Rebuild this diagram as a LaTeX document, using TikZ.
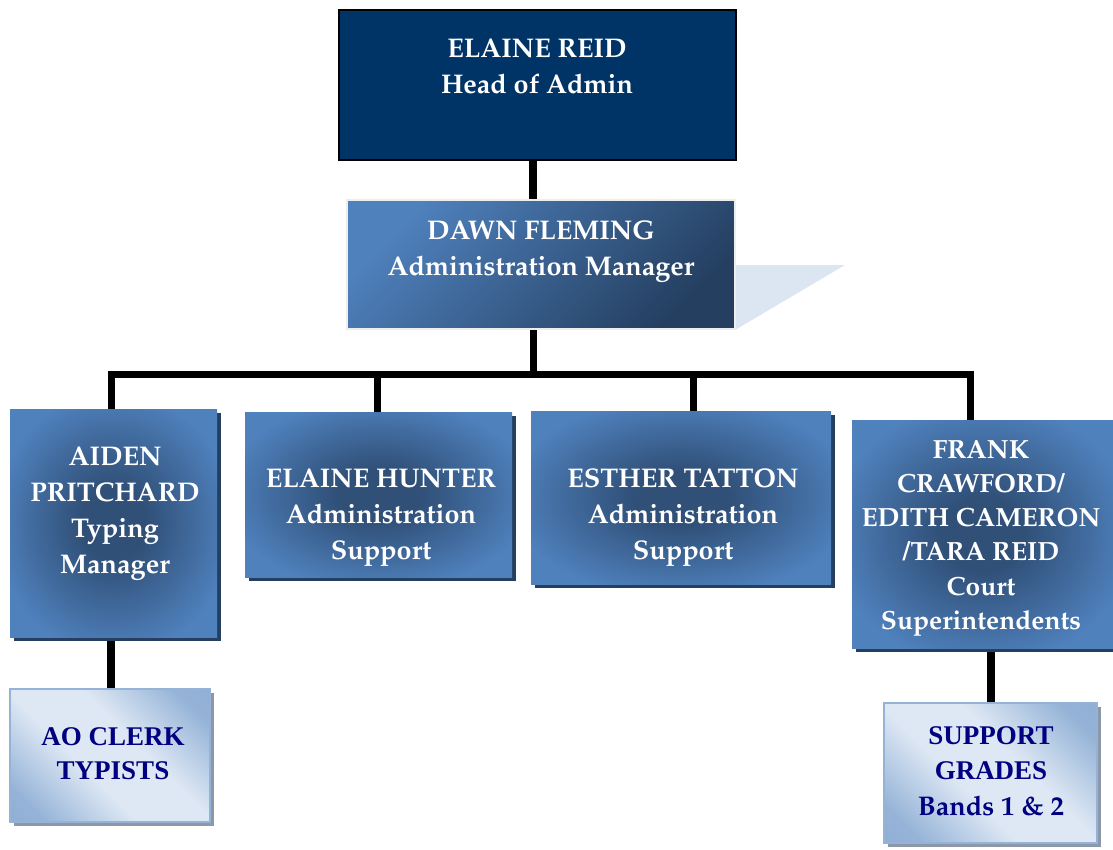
\documentclass[tikz,border=0pt]{standalone}
\usepackage[T1]{fontenc}
\usepackage{fontspec}
\setmainfont{Liberation Serif}
\newfontfamily\timesf{Liberation Serif}
\newcommand\palb{\fontencoding{T1}\fontfamily{ppl}\fontseries{b}\fontshape{n}\selectfont}
\usetikzlibrary{shadows}
\definecolor{navybox}{RGB}{0,51,102}
\definecolor{bluebox}{RGB}{79,129,189}
\definecolor{bluedark}{RGB}{48,80,120}
\definecolor{shadowblue}{RGB}{36,63,96}
\definecolor{lightbox}{RGB}{222,232,244}
\definecolor{lightmid}{RGB}{149,179,215}
\definecolor{lightdeep}{RGB}{135,166,208}
\definecolor{greyshadow}{RGB}{140,152,168}
\definecolor{navytext}{RGB}{0,0,128}
\definecolor{tricol}{RGB}{220,230,242}
\definecolor{paleedge}{RGB}{238,238,238}
\pgfdeclareradialshading{boxglow}{\pgfpoint{0bp}{0bp}}{color(0bp)=(bluedark); color(8bp)=(bluedark); color(29bp)=(bluebox); color(50bp)=(bluebox)}
\pgfdeclareverticalshading{lightband}{100bp}{color(0bp)=(lightdeep); color(22bp)=(lightmid); color(42bp)=(lightbox); color(58bp)=(lightbox); color(78bp)=(lightmid); color(100bp)=(lightdeep)}
\tikzset{
  conn/.style={line width=7pt, draw=black, line join=miter},
  midbox/.style={rectangle, inner sep=0pt, shading=boxglow,
    drop shadow={shadow xshift=4pt, shadow yshift=-4pt, fill=shadowblue, opacity=1}},
  lightbx/.style={rectangle, inner sep=0pt, shading=lightband, shading angle=-45,
    draw=lightmid, line width=2pt,
    drop shadow={shadow xshift=4pt, shadow yshift=-4pt, fill=greyshadow, opacity=1}},
  wtxt/.style={text=white, align=center, inner sep=0pt, font=\palb\fontsize{27}{36}\selectfont},
  ntxt/.style={text=navytext, align=center, inner sep=0pt, font=\timesf\bfseries\fontsize{27}{34}\selectfont},
}
\begin{document}
\begin{tikzpicture}[x=1pt, y=-1pt]
\useasboundingbox (0,0) rectangle (1113,849);
% boxes
\node[rectangle, inner sep=0pt, fill=navybox, draw=black, line width=2pt,
  minimum width=397pt, minimum height=150pt] (top) at (537.5,85) {};
\fill[tricol] (735,265) -- (845,265) -- (735,330) -- cycle;
\node[rectangle, inner sep=0pt, shading=axis, top color=bluebox, bottom color=shadowblue, shading angle=45,
  draw=paleedge, line width=2pt, minimum width=388pt, minimum height=129pt] (dawn) at (541,264.5) {};
\node[midbox, minimum width=207pt, minimum height=228pt] (aiden) at (113.5,523) {};
\node[midbox, minimum width=267pt, minimum height=165pt] (hunter) at (378.5,494.5) {};
\node[midbox, minimum width=300pt, minimum height=173pt] (esther) at (681,497.5) {};
\node[midbox, minimum width=261pt, minimum height=228pt] (frank) at (982.5,534) {};
\node[lightbx, minimum width=200pt, minimum height=133pt] (ao) at (110,755.5) {};
\node[lightbx, minimum width=213pt, minimum height=140pt] (support) at (990.5,773) {};
% connector coordinates
\coordinate (c1) at (533,374.5);
\coordinate (dA) at (111,374.5);
\coordinate (dH) at (377,374.5);
\coordinate (dE) at (693,374.5);
\coordinate (dF) at (970,374.5);
\coordinate (dS) at (991,700);
% connectors
\draw[conn, line width=8pt] (c1 |- top.south) -- (c1 |- dawn.north);
\draw[conn] (c1 |- dawn.south) -- (c1);
\draw[conn] (dA |- aiden.north) -- (dA) -- (dF) -- (dF |- frank.north);
\draw[conn] (dH) -- (dH |- hunter.north);
\draw[conn] (dE) -- (dE |- esther.north);
\draw[conn, line width=8pt] (dA |- aiden.south) ++(0,4) -- (dA |- ao.north);
\draw[conn, line width=8pt] (dS |- frank.south) ++(0,4) -- (dS |- support.north);
% texts
\node[wtxt] (ttop) at (537,66) {ELAINE REID\\Head of Admin};
\node[wtxt] (tdawn) at (541,251.5) {DAWN FLEMING\\Administration Manager};
\node[wtxt] (taiden) at (115,513) {AIDEN\\PRITCHARD\\Typing\\Manager};
\node[wtxt] (thunter) at (381,517.5) {ELAINE HUNTER\\Administration\\Support};
\node[wtxt] (testher) at (683,517.5) {ESTHER TATTON\\Administration\\Support};
\node[wtxt, font=\palb\fontsize{26.3}{34.3}\selectfont] (tfrank) at (981,538) {FRANK\\CRAWFORD/\\EDITH CAMERON\\/TARA REID\\Court\\Superintendents};
\node[ntxt] (tao) at (113,754) {AO CLERK\\TYPISTS};
\node[ntxt, font=\timesf\bfseries\fontsize{27}{35.5}\selectfont] (tsupport) at (991,771) {SUPPORT\\GRADES\\{\palb Bands 1 \& 2}};
\end{tikzpicture}
\end{document}
